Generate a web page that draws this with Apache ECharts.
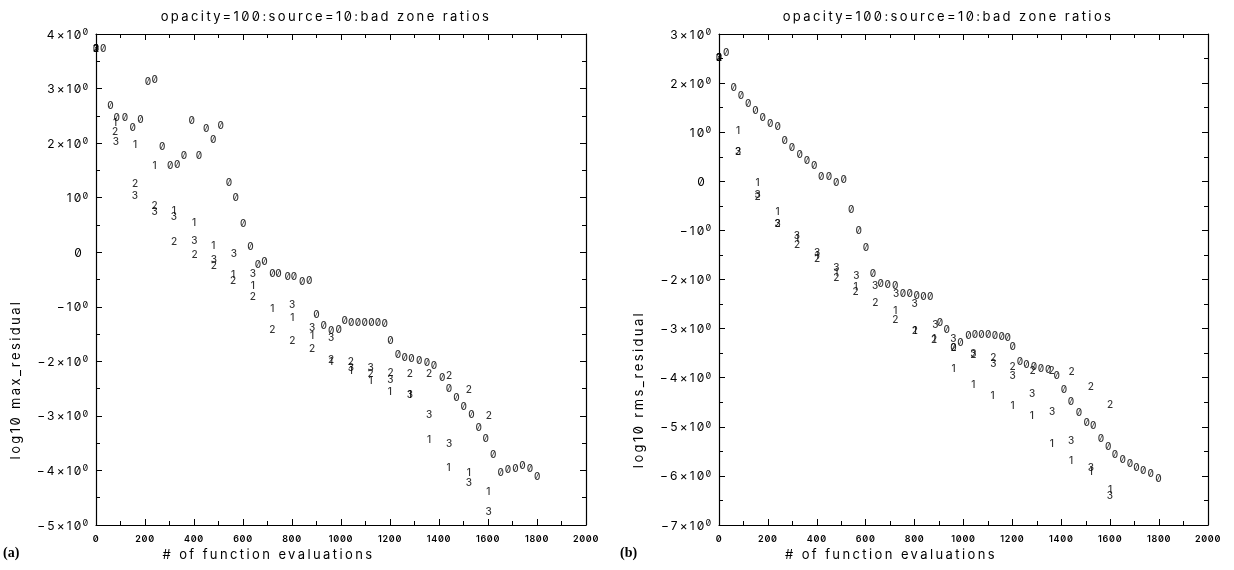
<!DOCTYPE html>
<html>
<head>
<meta charset="utf-8">
<script src="https://cdn.jsdelivr.net/npm/echarts@6/dist/echarts.min.js"></script>
<style>
  html, body { margin: 0; padding: 0; background: #fff; }
  #chart { width: 1234px; height: 570px; }
  #chart svg { will-change: transform; }
  /* the plot font is a wide-set vector face with slashed zeros */
  #chart text { font-variant-numeric: slashed-zero !important; }
  #chart text[style*="13px"] { letter-spacing: 2.4px; }
  #chart text[style*="12px"] { letter-spacing: 2.1px; }
  #chart text[style*="9px"] { letter-spacing: 0.7px; }
</style>
</head>
<body>
<div id="chart"></div>
<script>
// ---- data: [function evaluations, log10 residual] ----
// (a) log10 max_residual
const maxZero = [[0,3.75],[30,3.74],[59,2.69],[85,2.48],[118,2.47],[150,2.29],[182,2.45],[212,3.14],[240,3.18],
  [270,1.95],[303,1.59],[332,1.62],[359,1.79],[391,2.42],[420,1.79],[450,2.27],[479,2.08],[509,2.34],
  [543,1.29],[570,1.01],[601,0.54],[631,0.12],[661,-0.21],[688,-0.16],[720,-0.38],[745,-0.38],
  [783,-0.44],[808,-0.44],[842,-0.52],[870,-0.50],[900,-1.14],[930,-1.33],[960,-1.42],[991,-1.40],
  [1015,-1.25],[1042,-1.27],[1069,-1.27],[1097,-1.27],[1124,-1.28],[1151,-1.28],[1179,-1.29],
  [1202,-1.60],[1233,-1.86],[1260,-1.92],[1288,-1.94],[1319,-1.97],[1351,-2.01],[1380,-2.07],
  [1413,-2.28],[1441,-2.48],[1471,-2.65],[1501,-2.82],[1533,-2.97],[1562,-3.20],[1591,-3.41],
  [1621,-3.70],[1652,-4.03],[1682,-3.98],[1712,-3.95],[1741,-3.90],[1771,-3.96],[1801,-4.10]];
const maxOne = [[0,3.75],[78,2.39],[159,1.99],[239,1.59],[318,0.77],[400,0.56],[479,0.13],[559,-0.40],
  [640,-0.60],[720,-1.02],[801,-1.18],[882,-1.52],[960,-1.99],[1040,-2.15],[1121,-2.34],[1199,-2.55],
  [1281,-2.59],[1360,-3.43],[1439,-3.94],[1522,-4.03],[1601,-4.37]];
const maxTwo = [[0,3.75],[78,2.22],[159,1.27],[239,0.86],[319,0.20],[402,-0.04],[481,-0.24],[559,-0.51],
  [640,-0.81],[720,-1.41],[801,-1.61],[882,-1.76],[960,-1.95],[1040,-2.00],[1121,-2.22],[1202,-2.20],
  [1281,-2.22],[1360,-2.22],[1441,-2.25],[1522,-2.51],[1603,-2.99]];
const maxThree = [[0,3.75],[81,2.03],[159,1.04],[239,0.76],[318,0.66],[402,0.23],[481,-0.13],[563,-0.02],
  [640,-0.39],[801,-0.94],[882,-1.37],[960,-1.55],[1040,-2.10],[1121,-2.10],[1202,-2.33],[1281,-2.59],
  [1360,-2.96],[1441,-3.50],[1522,-4.21],[1603,-4.74]];

// (b) log10 rms_residual
const rmsZero = [[0,2.53],[30,2.63],[60,1.93],[90,1.75],[120,1.59],[149,1.45],[179,1.31],[210,1.19],
  [240,1.13],[269,0.84],[299,0.70],[330,0.56],[360,0.44],[390,0.34],[418,0.11],[450,0.11],[479,-0.01],
  [510,0.05],[541,-0.57],[571,-1.00],[601,-1.34],[630,-1.87],[662,-2.08],[690,-2.10],[721,-2.12],
  [753,-2.27],[780,-2.27],[809,-2.32],[836,-2.34],[864,-2.34],[904,-2.87],[931,-3.00],[959,-3.37],
  [988,-3.27],[1020,-3.14],[1047,-3.12],[1074,-3.10],[1101,-3.12],[1129,-3.14],[1156,-3.16],
  [1181,-3.18],[1201,-3.36],[1231,-3.66],[1258,-3.73],[1288,-3.77],[1317,-3.80],[1347,-3.82],
  [1381,-3.95],[1411,-4.24],[1440,-4.47],[1472,-4.70],[1504,-4.90],[1531,-4.96],[1562,-5.22],
  [1592,-5.40],[1620,-5.55],[1651,-5.66],[1681,-5.74],[1708,-5.82],[1735,-5.88],[1766,-5.95],[1797,-6.05]];
const rmsOne = [[0,2.53],[78,1.05],[158,-0.01],[240,-0.61],[319,-1.15],[401,-1.50],[480,-1.85],[559,-2.14],
  [721,-2.63],[801,-3.03],[880,-3.20],[959,-3.81],[1040,-4.12],[1119,-4.36],[1201,-4.56],[1279,-4.75],
  [1361,-5.34],[1440,-5.67],[1521,-5.90],[1599,-6.26]];
const rmsTwo = [[0,2.53],[78,0.61],[158,-0.30],[240,-0.85],[319,-1.27],[401,-1.57],[480,-1.95],[559,-2.24],
  [639,-2.46],[721,-2.80],[801,-3.03],[880,-3.22],[959,-3.37],[1040,-3.52],[1122,-3.58],[1201,-3.77],
  [1283,-3.84],[1360,-3.85],[1442,-3.86],[1521,-4.17],[1599,-4.54]];
const rmsThree = [[0,2.53],[78,0.61],[158,-0.25],[240,-0.85],[319,-1.10],[401,-1.44],[480,-1.75],[562,-1.90],
  [639,-2.12],[725,-2.27],[800,-2.48],[885,-2.90],[959,-3.20],[1040,-3.50],[1122,-3.71],[1201,-3.95],
  [1281,-4.31],[1363,-4.68],[1440,-5.27],[1521,-5.82],[1599,-6.38]];

const panelTitle = 'opacity=100:source=10:bad zone ratios';
const xName = '# of function evaluations';
const leftYName = 'log10 max_residual';
const rightYName = 'log10 rms_residual';

const FONT = 'Inter, "DejaVu Sans", sans-serif';
const ink = '#000';

// y tick labels look like 4×10⁰, 10⁰, 0, −10⁰, −2×10⁰ ...
function yLabel(v) {
  if (v === 0) return '{z|0}';
  const a = Math.abs(v);
  return '{b|' + (v < 0 ? '\u2212' : '') + (a === 1 ? '' : a + '\u00d7') + '10}{s|0}';
}
const yRich = {
  b: { fontSize: 12, fontFamily: FONT, color: ink, lineHeight: 14 },
  z: { fontSize: 12, fontFamily: FONT, color: ink, lineHeight: 14, padding: [0, 5, 0, 0] },
  s: { fontSize: 9, fontFamily: FONT, color: ink, lineHeight: 8, verticalAlign: 'top' }
};

function axis(extra) {
  return Object.assign({
    type: 'value',
    axisLine: { show: true, onZero: false, lineStyle: { color: ink, width: 1.2 } },
    axisTick: { show: true, inside: true, length: 6, lineStyle: { color: ink } },
    minorTick: { show: true, splitNumber: 2, length: 4, lineStyle: { color: ink } },
    splitLine: { show: false },
    axisLabel: { show: false }
  }, extra);
}

function xPair(grid) {
  const scale = { gridIndex: grid, min: 0, max: 2000, interval: 200 };
  return [
    axis(Object.assign({
      position: 'bottom',
      axisLabel: { show: true, fontSize: 9, fontWeight: 600, fontFamily: FONT, color: ink, margin: 9,
        formatter: function (v) { return String(v); } },
      name: xName, nameLocation: 'middle', nameGap: 22, nameMoveOverlap: false,
      nameTextStyle: { fontSize: 13, fontFamily: FONT, color: ink, padding: [0, 145, 0, 0] }
    }, scale)),
    axis(Object.assign({ position: 'top' }, scale))
  ];
}

function yPair(grid, min, max, name, shift) {
  const scale = { gridIndex: grid, min: min, max: max, interval: 1 };
  return [
    axis(Object.assign({
      position: 'left',
      axisLabel: { show: true, margin: 7, formatter: yLabel, rich: yRich },
      name: name, nameLocation: 'middle', nameRotate: 90, nameGap: 75, nameMoveOverlap: false,
      nameTextStyle: { fontSize: 13, fontFamily: FONT, color: ink, padding: [0, shift, 0, 0] }
    }, scale)),
    axis(Object.assign({ position: 'right' }, scale))
  ];
}

function marks(label, data, xi, yi) {
  return {
    type: 'scatter', name: label, data: data, xAxisIndex: xi, yAxisIndex: yi,
    symbol: 'circle', symbolSize: 1, silent: true,
    itemStyle: { color: 'rgba(0,0,0,0)' },
    label: { show: true, position: 'inside', formatter: label, color: ink, fontSize: 10, fontWeight: 500, fontFamily: FONT }
  };
}

const chart = echarts.init(document.getElementById('chart'), null, { renderer: 'svg' });
chart.setOption({
  animation: false,
  backgroundColor: '#fff',
  title: [
    { text: panelTitle, left: 326, top: 9, padding: 0, textAlign: 'center',
      textStyle: { fontSize: 13, fontWeight: 'normal', fontFamily: FONT, color: ink } },
    { text: panelTitle, left: 948, top: 9, padding: 0, textAlign: 'center',
      textStyle: { fontSize: 13, fontWeight: 'normal', fontFamily: FONT, color: ink } }
  ],
  grid: [
    { left: 96, top: 34, width: 490, height: 491, outerBoundsMode: 'none' },
    { left: 719, top: 34, width: 489, height: 491, outerBoundsMode: 'none' }
  ],
  xAxis: [].concat(xPair(0), xPair(1)),
  yAxis: [].concat(yPair(0, -5, 4, leftYName, 200), yPair(1, -7, 3, rightYName, 220)),
  graphic: [
    { type: 'text', left: 3, top: 545, style: { text: '(a)', font: 'bold 14px "Liberation Serif"', fill: ink } },
    { type: 'text', left: 620, top: 545, style: { text: '(b)', font: 'bold 14px "Liberation Serif"', fill: ink } }
  ],
  series: [
    marks('0', maxZero, 0, 0), marks('1', maxOne, 0, 0), marks('2', maxTwo, 0, 0), marks('3', maxThree, 0, 0),
    marks('0', rmsZero, 2, 2), marks('1', rmsOne, 2, 2), marks('2', rmsTwo, 2, 2), marks('3', rmsThree, 2, 2)
  ]
});
</script>
</body>
</html>
